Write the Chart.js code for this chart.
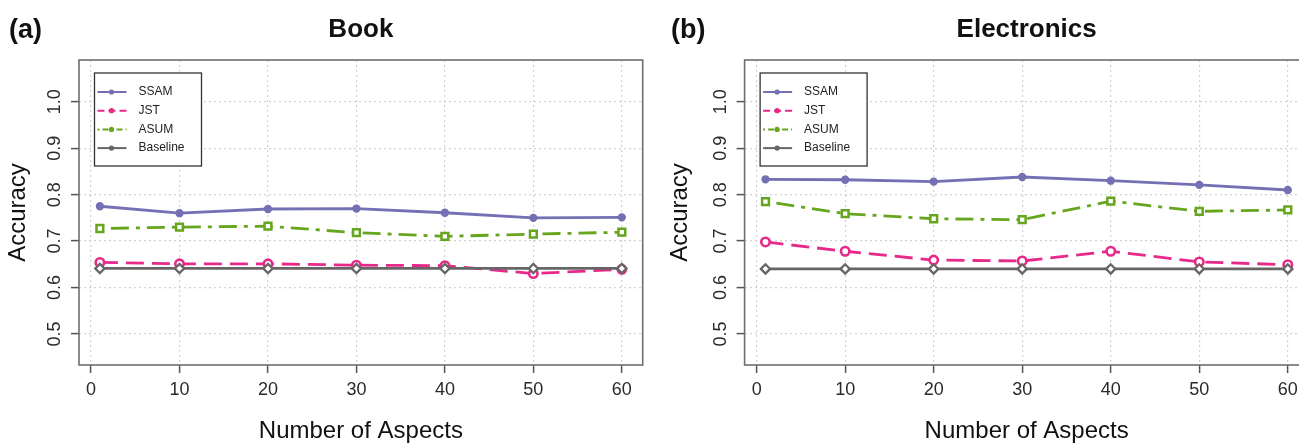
<!DOCTYPE html>
<html>
<head>
<meta charset="utf-8">
<script src="https://cdn.jsdelivr.net/npm/chart.js@4.4.1/dist/chart.umd.min.js"></script>
<style>
  body { margin: 0; background: #fff; width: 1299px; height: 444px; overflow: hidden; position: relative; font-family: "Liberation Sans", Arial, sans-serif; }
  .panel { position: absolute; top: 0; height: 444px; overflow: hidden; }
  .tag { position: absolute; top: 13px; font-weight: bold; font-size: 27px; line-height: 32px; color: #111; }
</style>
</head>
<body>
<div class="panel" style="left:0;width:650px"><canvas id="bookChart" width="650" height="444"></canvas></div>
<div class="panel" style="left:650px;width:649px"><canvas id="elecChart" width="670" height="444"></canvas></div>
<div class="tag" style="left:9px">(a)</div>
<div class="tag" style="left:671px">(b)</div>
<script>
const aspects = [1, 10, 20, 30, 40, 50, 60]
const xTicks = [0, 10, 20, 30, 40, 50, 60]
const yTicks = [0.5, 0.6, 0.7, 0.8, 0.9, 1.0]
const seriesNames = ['SSAM', 'JST', 'ASUM', 'Baseline']

// Book
const bookSSAM = [0.775, 0.760, 0.769, 0.770, 0.761, 0.750, 0.751]
const bookJST = [0.654, 0.651, 0.651, 0.648, 0.647, 0.630, 0.639]
const bookASUM = [0.727, 0.730, 0.732, 0.718, 0.710, 0.715, 0.719]
const bookBaseline = [0.641, 0.641, 0.641, 0.641, 0.641, 0.641, 0.641]

// Electronics
const elecSSAM = [0.833, 0.832, 0.828, 0.838, 0.830, 0.821, 0.810]
const elecJST = [0.698, 0.678, 0.659, 0.657, 0.678, 0.655, 0.649]
const elecASUM = [0.785, 0.759, 0.748, 0.746, 0.786, 0.764, 0.767]
const elecBaseline = [0.640, 0.640, 0.640, 0.640, 0.640, 0.640, 0.640]

const family = '"Liberation Sans", Arial, sans-serif'

// linjestil per serie (R Dark2-färger)
const styles = [
    { color: '#7570b3', dash: [], point: 'circle', fill: '#7570b3', radius: 3.4, border: 1.5, legendDash: [] },
    { color: '#e7298a', dash: [18, 8], point: 'circle', fill: '#ffffff', radius: 4.2, border: 2.6, legendDash: [7, 4] },
    { color: '#66a61e', dash: [4, 7, 18, 7], point: 'rect', fill: '#ffffff', radius: 4.8, border: 2.5, legendDash: [2, 3, 6, 3] },
    { color: '#666666', dash: [], point: 'rectRot', fill: '#ffffff', radius: 4.6, border: 2.3, legendDash: [] }
]

// ram runt plotytan som i R
const boxPlugin = {
    id: 'plotBox',
    beforeDatasetsDraw(chart) {
        const { ctx, chartArea: a } = chart
        ctx.save()
        ctx.strokeStyle = '#6e6e6e'
        ctx.lineWidth = 1.6
        ctx.strokeRect(a.left, a.top, a.right - a.left, a.bottom - a.top)
        ctx.restore()
    }
}

// legend i en ruta uppe till vänster
const boxLegendPlugin = {
    id: 'boxLegend',
    afterDraw(chart) {
        const { ctx, chartArea: a } = chart
        const x0 = a.left + 15.5
        const y0 = a.top + 13
        ctx.save()
        ctx.fillStyle = '#fff'
        ctx.fillRect(x0, y0, 107, 93)
        ctx.strokeStyle = '#333'
        ctx.lineWidth = 1.3
        ctx.strokeRect(x0, y0, 107, 93)
        seriesNames.forEach((name, i) => {
            const st = styles[i]
            const y = y0 + 19 + i * 18.7
            ctx.strokeStyle = st.color
            ctx.lineWidth = 2
            ctx.setLineDash(st.legendDash)
            ctx.beginPath()
            ctx.moveTo(x0 + 3, y)
            ctx.lineTo(x0 + 32, y)
            ctx.stroke()
            ctx.setLineDash([])
            ctx.fillStyle = st.color
            ctx.beginPath()
            ctx.arc(x0 + 17, y, 2.6, 0, Math.PI * 2)
            ctx.fill()
            ctx.fillStyle = '#222'
            ctx.font = '12px ' + family
            ctx.textBaseline = 'middle'
            ctx.fillText(name, x0 + 44, y)
        })
        ctx.restore()
    }
}

function makeChart(id, title, series, pad) {
    const datasets = series.map((values, i) => ({
        label: seriesNames[i],
        data: aspects.map((x, j) => ({ x: x, y: values[j] })),
        borderColor: styles[i].color,
        borderWidth: 2.8,
        borderDash: styles[i].dash,
        pointStyle: styles[i].point,
        pointRadius: styles[i].radius,
        pointBorderWidth: styles[i].border,
        pointBorderColor: styles[i].color,
        pointBackgroundColor: styles[i].fill,
        tension: 0,
        order: 3 - i
    }))

    const gridOpts = {
        color: '#d2d2d2',
        lineWidth: 1.2,
        borderDash: [2, 3],
        tickLength: 8,
        tickColor: '#555',
        tickWidth: 1.5
    }

    new Chart(document.getElementById(id), {
        type: 'line',
        data: { datasets: datasets },
        plugins: [boxPlugin, boxLegendPlugin],
        options: {
            responsive: false,
            animation: false,
            events: [],
            layout: { padding: { left: pad.left, right: pad.right, top: 0, bottom: 0 } },
            scales: {
                x: {
                    type: 'linear',
                    min: -1.36,
                    max: 62.36,
                    afterBuildTicks: (s) => { s.ticks = xTicks.map((v) => ({ value: v })) },
                    afterFit: (s) => { s.height = 79 },
                    grid: gridOpts,
                    border: { display: false, dash: [2, 3] },
                    ticks: { padding: 6, minRotation: 0, maxRotation: 0, autoSkip: false, color: '#2a2a2a', font: { size: 18, family: family } },
                    title: { display: true, text: 'Number of Aspects', color: '#111', font: { size: 24, family: family, lineHeight: 1 }, padding: { top: 0, bottom: 0.5 } }
                },
                y: {
                    min: 0.433,
                    max: 1.09,
                    afterBuildTicks: (s) => { s.ticks = yTicks.map((v) => ({ value: v })) },
                    afterFit: (s) => { s.width = 79 },
                    grid: gridOpts,
                    border: { display: false, dash: [2, 3] },
                    ticks: { minRotation: 90, maxRotation: 90, crossAlign: 'center', padding: 3.5, color: '#2a2a2a', font: { size: 18, family: family }, callback: (v) => v.toFixed(1) },
                    title: { display: true, text: 'Accuracy', color: '#111', font: { size: 24, family: family }, padding: { top: pad.yTitle } }
                }
            },
            plugins: {
                legend: { display: false },
                tooltip: { enabled: false },
                title: { display: true, text: title, fullSize: false, color: '#111', font: { size: 26, weight: 'bold', family: family, lineHeight: 1.2 }, padding: { top: 14, bottom: 14.8 } }
            }
        }
    })
}

makeChart('bookChart', 'Book', [bookSSAM, bookJST, bookASUM, bookBaseline], { left: 0, right: 7, yTitle: 4 })
makeChart('elecChart', 'Electronics', [elecSSAM, elecJST, elecASUM, elecBaseline], { left: 15.6, right: 11.3, yTitle: 0 })
</script>
</body>
</html>
